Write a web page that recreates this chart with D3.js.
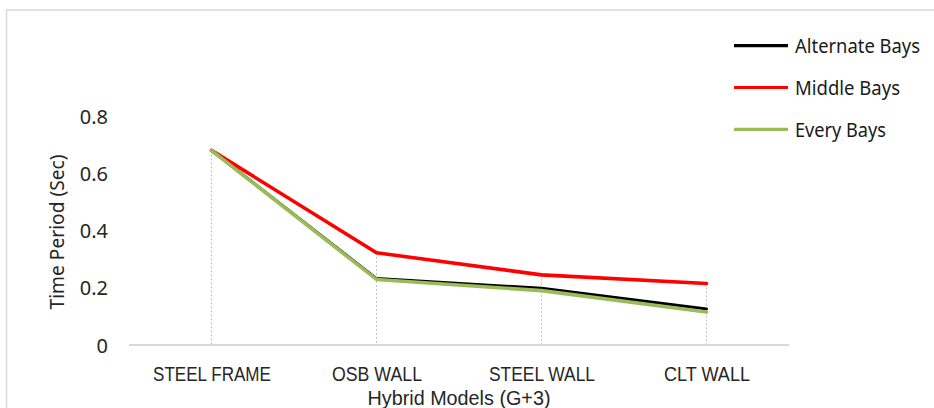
<!DOCTYPE html>
<html>
<head>
<meta charset="utf-8">
<script src="https://cdn.jsdelivr.net/npm/d3@7/dist/d3.min.js"></script>
<style>
  html, body { margin: 0; padding: 0; background: #fff; }
  svg { display: block; }
  text { font-family: "Noto Sans", "Open Sans", sans-serif; }
</style>
</head>
<body>
<div id="chart"></div>
<script>
// ---- data ----
const categories = ["STEEL  FRAME", "OSB WALL", "STEEL  WALL", "CLT WALL"];
const seriesNames = ["Alternate Bays", "Middle Bays", "Every Bays"];
const alternateBays = [0.68, 0.232, 0.198, 0.126];
const middleBays = [0.68, 0.322, 0.245, 0.215];
const everyBays = [0.68, 0.229, 0.190, 0.115];
const yTicks = [0, 0.2, 0.4, 0.6, 0.8];
const xTitle = "Hybrid Models (G+3)";
const yTitle = "Time Period (Sec)";

const W = 934, H = 408;
const svg = d3.select("#chart").append("svg").attr("width", W).attr("height", H);

// outer frame
svg.append("rect").attr("x", 6.5).attr("y", 10).attr("width", W + 20).attr("height", H + 20)
  .attr("fill", "#fff").attr("stroke", "#d9d9d9").attr("stroke-width", 1.5);

const x = d3.scalePoint().domain(categories).range([129, 789]).padding(0.5);
const y = d3.scaleLinear().domain([0, 0.8]).range([345, 116]);

const series = [
  { name: seriesNames[0], values: alternateBays, color: "#000000", width: 3 },
  { name: seriesNames[1], values: middleBays, color: "#ff0000", width: 3.6 },
  { name: seriesNames[2], values: everyBays, color: "#9bbb59", width: 3.6 }
];

// drop lines
const maxVals = categories.map((c, i) => d3.max(series, s => s.values[i]));
svg.append("g").selectAll("line").data(categories).join("line")
  .attr("x1", d => x(d)).attr("x2", d => x(d))
  .attr("y1", (d, i) => y(maxVals[i])).attr("y2", y(0))
  .attr("stroke", "#c0c0c0").attr("stroke-width", 1).attr("stroke-dasharray", "2,2");

// x axis line
const xAxis = d3.axisBottom(x).tickSize(0).tickPadding(0);
const gx = svg.append("g").attr("transform", `translate(0,${y(0)})`).call(xAxis);
gx.select(".domain").attr("stroke", "#d9d9d9").attr("stroke-width", 2).attr("d", "M129,0H789");
const xLabelWidths = [118, 90, 106, 86];
gx.selectAll(".tick text")
  .attr("dy", null).attr("y", 36)
  .attr("fill", "#262626").attr("font-size", 20)
  .attr("textLength", (d, i) => xLabelWidths[i]).attr("lengthAdjust", "spacingAndGlyphs")
  .style("font-family", "'Liberation Sans', Arial, sans-serif");

// y axis labels
const yAxis = d3.axisLeft(y).tickValues(yTicks).tickSize(0).tickPadding(0)
  .tickFormat(d => d === 0 ? "0" : d3.format(".1f")(d));
const gy = svg.append("g").attr("transform", "translate(108,0)").call(yAxis);
gy.select(".domain").remove();
gy.selectAll(".tick text").attr("fill", "#262626").attr("font-size", 20).attr("dy", "0.35em")
  .style("font-family", "'Noto Sans', sans-serif");

// lines
const line = d3.line().x((d, i) => x(categories[i])).y(d => y(d));
svg.append("g").selectAll("path").data(series).join("path")
  .attr("d", s => line(s.values))
  .attr("fill", "none").attr("stroke", s => s.color).attr("stroke-width", s => s.width)
  .attr("stroke-linejoin", "round").attr("stroke-linecap", "round");

// axis titles
svg.append("text").attr("x", 459).attr("y", 404.5).attr("text-anchor", "middle")
  .attr("font-size", 20).attr("fill", "#262626")
  .style("font-family", "'Liberation Sans', Arial, sans-serif")
  .attr("textLength", 183).attr("lengthAdjust", "spacingAndGlyphs").text(xTitle);
svg.append("text").attr("transform", "translate(64,232) rotate(-90)").attr("text-anchor", "middle")
  .attr("font-size", 19).attr("fill", "#262626")
  .attr("textLength", 155).attr("lengthAdjust", "spacingAndGlyphs").text(yTitle);

// legend
const legendW = [125, 105, 91];
const lg = svg.append("g").selectAll("g").data(series).join("g")
  .attr("transform", (d, i) => `translate(734,${45.7 + i * 41.8})`);
lg.append("line").attr("x1", 0).attr("x2", 54).attr("y1", 0).attr("y2", 0)
  .attr("stroke", d => d.color).attr("stroke-width", 3.2);
lg.append("text").attr("x", 61).attr("y", 7.5).attr("font-size", 20).attr("fill", "#1a1a1a")
  .attr("textLength", (d, i) => legendW[i]).attr("lengthAdjust", "spacingAndGlyphs")
  .text(d => d.name);
</script>
</body>
</html>
